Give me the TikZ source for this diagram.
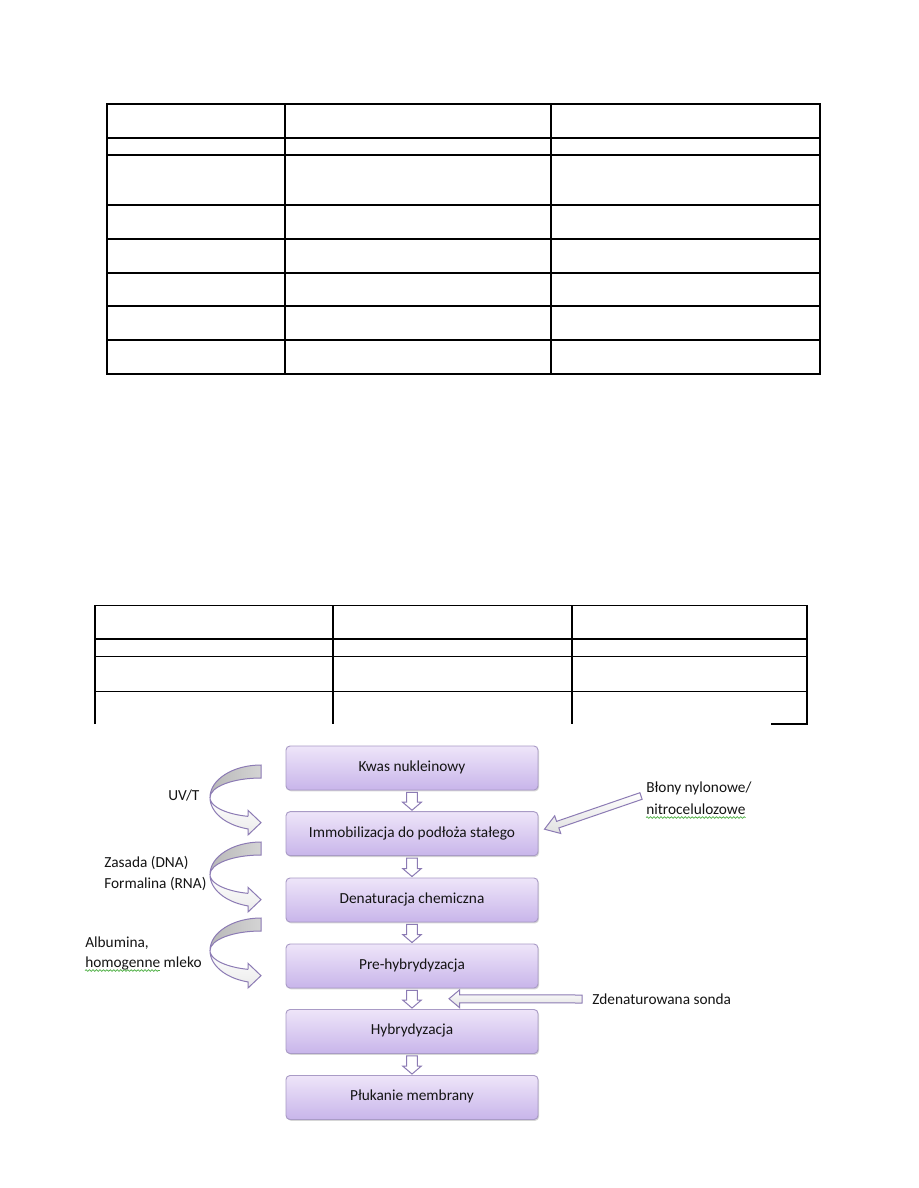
\documentclass[tikz,border=0pt]{standalone}
\usepackage{fontspec}
\setmainfont{Carlito}
\usetikzlibrary{calc,shadows,decorations.pathmorphing}
\definecolor{boxtop}{HTML}{EEE5F9}
\definecolor{boxbot}{HTML}{C8B5EA}
\definecolor{boxline}{HTML}{A99BC6}
\definecolor{arrline}{HTML}{8C7BB4}
\definecolor{wavegreen}{HTML}{4FB045}
\definecolor{txt}{HTML}{141414}
\definecolor{backgray}{HTML}{B8B8B8}
\definecolor{backlight}{HTML}{D4D4D4}
\newlength\homw
\newcommand\lblfont{\fontsize{11.5}{14}\selectfont}
% tail, tip, shaft half width, head half width, head length, style
\newcommand\blockarr[6]{%
  \coordinate (ba-h) at ($(#2)!#5!(#1)$);
  \path[#6] ($(#1)!#3!90:(#2)$) -- ($(ba-h)!#3!90:(#2)$) -- ($(ba-h)!#4!90:(#2)$)
    -- (#2) -- ($(ba-h)!#4!-90:(#2)$) -- ($(ba-h)!#3!-90:(#2)$) -- ($(#1)!#3!-90:(#2)$) -- cycle;}
\newcommand\curvedarr[1]{%
  \begin{scope}[shift={(0,#1)}]
    \path[cback] (261,765) .. controls (232.83,765) and (210,779.55) .. (210,797.5)
      .. controls (210,786.73) and (232.83,778) .. (261,778) -- cycle;
    \path[cfront] (210,797.5)
      -- plot[domain=180:104.77,samples=25,variable=\t] ({261+51*cos(\t)},{797.5+32.5*sin(\t)})
      -- (248,835) -- (261,822.65) -- (248,810.3) -- (248,816.4)
      -- plot[domain=104.77:180,samples=25,variable=\t] ({261+51*cos(\t)},{797.5+19.5*sin(\t)})
      -- cycle;
  \end{scope}}
\begin{document}
\settowidth{\homw}{\lblfont homogenne}%
\begin{tikzpicture}[x=0.75pt,y=-0.75pt,
  tab/.style={line width=1pt,black},
  stepbox/.style={draw=boxline, line width=0.7pt, rounded corners=3pt,
    top color=boxtop, bottom color=boxbot, minimum width=189pt, minimum height=33pt,
    inner sep=0pt, font=\lblfont, text=txt, text height=7.5pt, text depth=2.3pt,
    drop shadow={shadow xshift=0.8pt, shadow yshift=-1pt, opacity=0.35, fill=black!45}},
  lbl/.style={font=\lblfont, text=txt, inner sep=0pt, anchor=base west},
  blk/.style={draw=arrline, line width=0.75pt, fill=white},
  sidearr/.style={draw=arrline, line width=0.75pt, top color=white, bottom color=black!12},
  cback/.style={draw=arrline, line width=0.75pt, left color=backgray, right color=backlight},
  cfront/.style={draw=arrline, line width=0.75pt, top color=white, bottom color=black!8},
  wave/.style={wavegreen, line width=0.55pt, decorate,
    decoration={snake, segment length=2.6pt, amplitude=0.6pt}}]
\fill[white] (0,0) rectangle (918,1188);
\path[use as bounding box] (0,0) rectangle (918,1188);

% table 1
\draw[tab] (107,104) rectangle (820,374);
\foreach \yy in {138,155,205,239,273,306,340} \draw[tab] (107,\yy) -- (820,\yy);
\foreach \xx in {285,551} \draw[tab] (\xx,104) -- (\xx,374);

% table 2 (cut at the bottom)
\draw[tab] (95,724) -- (95,605.7) -- (807,605.7) -- (807,724) -- (771,724);
\foreach \yy in {639,656.3,691.3} \draw[tab] (95,\yy) -- (807,\yy);
\foreach \xx in {333,572} \draw[tab] (\xx,605.7) -- (\xx,724);

% flow boxes
\node[stepbox] (n1) at (412,768) {Kwas nukleinowy};
\node[stepbox] (n2) at (412,833.7) {Immobilizacja do podłoża stałego};
\node[stepbox] (n3) at (412,900) {Denaturacja chemiczna};
\node[stepbox] (n4) at (412,966) {Pre-hybrydyzacja};
\node[stepbox] (n5) at (412,1031.5) {Hybrydyzacja};
\node[stepbox] (n6) at (412,1097.5) {Płukanie membrany};

% down arrows between boxes
\foreach \a/\b in {n1/n2,n2/n3,n3/n4,n4/n5,n5/n6}{
  \coordinate (dt) at ($(\a.south)+(0,2)$);
  \coordinate (dp) at ($(\b.north)+(0,-1)$);
  \blockarr{dt}{dp}{4pt}{7pt}{6pt}{blk}
}

% curved arrows on the left
\curvedarr{0}
\curvedarr{77}
\curvedarr{153}

% labels
\node[lbl] (uv) at (168,800) {UV/T};
\node[lbl] (za) at (104,867) {Zasada (DNA)};
\node[lbl] (fo) at (104,888) {Formalina (RNA)};
\node[lbl] (al) at (85,947) {Albumina,};
\node[lbl] (ho) at (85,967) {homogenne mleko};
\node[lbl] (b1) at (646,792) {Błony nylonowe/};
\node[lbl] (b2) at (646,814) {nitrocelulozowe};
\node[lbl] (zs) at (592,1004) {Zdenaturowana sonda};

% spell-check waves
\coordinate (hw0) at ($(ho.base west)+(0,3.5)$);
\draw[wave] (hw0) -- ($(hw0)+(\homw,0pt)$);
\draw[wave] ($(b2.base west)+(0,3.5)$) -- ($(b2.base east)+(0,3.5)$);

% side arrows
\coordinate (bt) at ($(b1.base west)+(-5,4)$);
\coordinate (bp) at ($(n2.east)+(6,-4.5)$);
\blockarr{bt}{bp}{2.6pt}{7pt}{10.5pt}{sidearr}
\coordinate (st) at ($(zs.base west)+(-10,-5)$);
\coordinate (sp) at ($($(n4.south)!0.5!(n5.north)$)+(37,0)$);
\blockarr{st}{sp}{3pt}{6.75pt}{8pt}{sidearr}
\end{tikzpicture}
\end{document}
